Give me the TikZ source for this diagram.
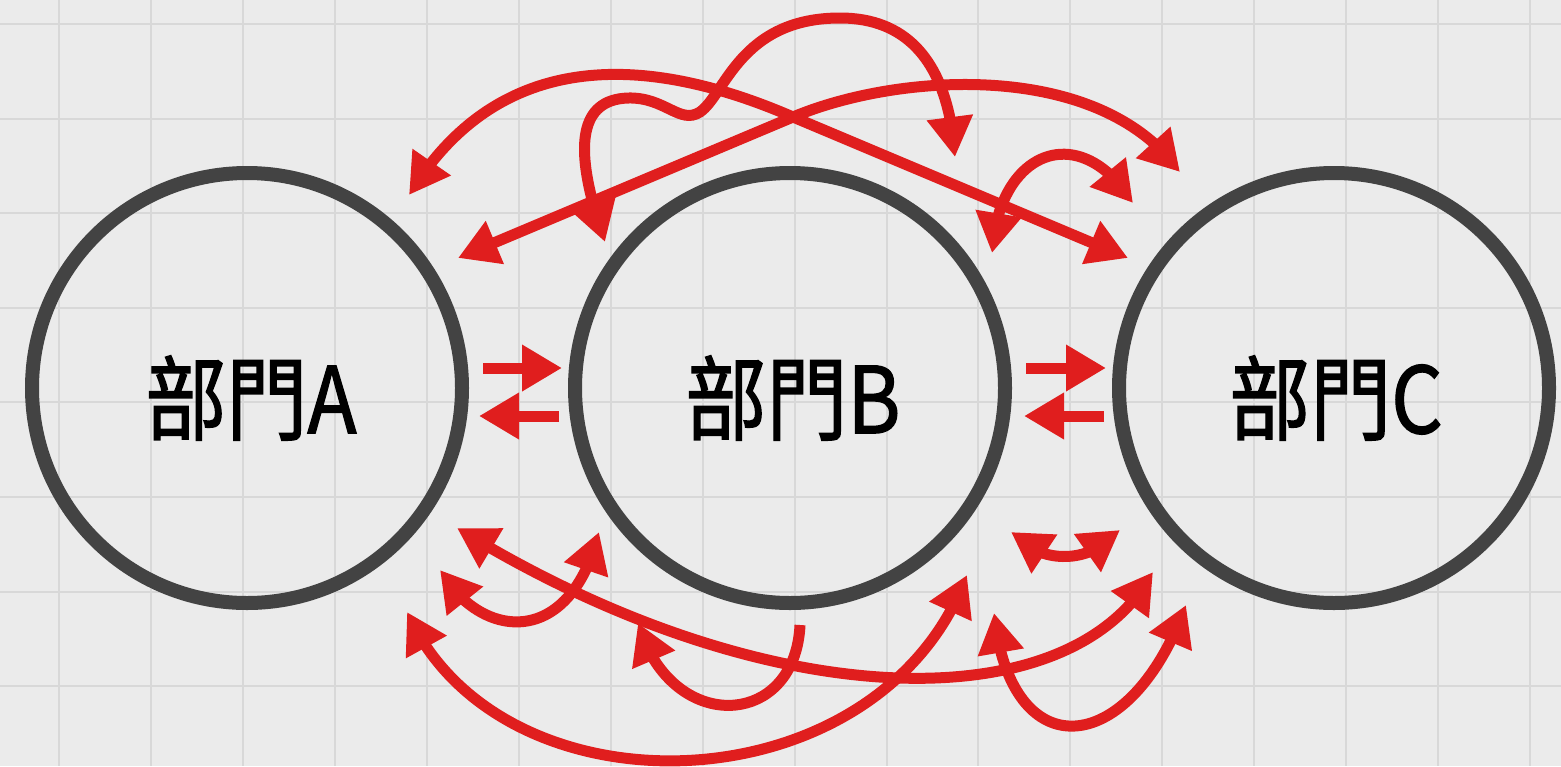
\documentclass[tikz,border=0pt]{standalone}
\usepackage{fontspec}
\usepackage{graphicx}
\newfontfamily\cjk{Noto Sans CJK TC}[FakeBold=1.5]
\usepackage{tikz}
\usetikzlibrary{arrows.meta,bending}
\pgfdeclarelayer{bg}
\pgfsetlayers{bg,main}
\definecolor{paper}{RGB}{235,235,235}
\definecolor{gridgray}{RGB}{216,216,216}
\definecolor{ringgray}{RGB}{67,67,67}
\definecolor{flowred}{RGB}{224,30,30}

\begin{document}
\begin{tikzpicture}[x=0.5pt,y=-0.5pt,
        >={Triangle[length=20pt,width=22pt,flex]},
        dept/.style={circle,draw=ringgray,line width=7pt,minimum size=215pt,inner sep=0pt},
        deptname/.style={font=\cjk\fontsize{46}{46}\selectfont,inner sep=0pt},
        flow/.style={draw=flowred,line width=5.5pt}]
        \useasboundingbox (0,0) rectangle (1561,766);
        \begin{pgfonlayer}{bg}
                \fill [paper] (0,0) rectangle (1561,766);
                \foreach \gx in {0,...,16}
                        \draw [gridgray,line width=1pt] ({59.4+91.9*\gx},0) -- ++(0,766);
                \foreach \gy in {0,...,7}
                        \draw [gridgray,line width=1pt] (0,{24+94.6*\gy}) -- ++(1561,0);
        \end{pgfonlayer}
        \node (A) [dept] at (247,388) {};
        \node (B) [dept] at (790,388) {};
        \node (C) [dept] at (1334,388) {};
        \node (nA) [deptname] at (251,398) {\scalebox{0.88}[1]{部門A}};
        \node (nB) [deptname] at (793,398) {\scalebox{0.88}[1]{部門B}};
        \node (nC) [deptname] at (1336,398) {\scalebox{0.88}[1]{部門C}};
        % ends above the circles
        \coordinate (a1) at (409,195);
        \coordinate (a2) at (458,258);
        \coordinate (x1) at (793,117);
        \coordinate (b1) at (605,242);
        \coordinate (b2) at (955,157);
        \coordinate (b3) at (992,253);
        \coordinate (c1) at (1128,258);
        \coordinate (c2) at (1180,172);
        \coordinate (c3) at (1133,203);
        % ends below the circles
        \coordinate (a3) at (457,528);
        \coordinate (a4) at (440,570);
        \coordinate (a5) at (407,612);
        \coordinate (b4) at (599,532);
        \coordinate (b5) at (967,575);
        \coordinate (b6) at (800,625);
        \coordinate (b7) at (638,623);
        \coordinate (b8) at (1011,532);
        \coordinate (b9) at (994,613);
        \coordinate (c4) at (1153,572);
        \coordinate (c5) at (1120,530);
        \coordinate (c6) at (1186,605);
        % ends between the circles
        \coordinate (ab1) at (483,368);
        \coordinate (ab2) at (562,368);
        \coordinate (ab3) at (559,416);
        \coordinate (ab4) at (479,416);
        \coordinate (bc1) at (1026,368);
        \coordinate (bc2) at (1106,368);
        \coordinate (bc3) at (1104,416);
        \coordinate (bc4) at (1024,416);

        \draw [flow,<->] (a1) .. controls (500,45) and (650,55) .. (x1) -- (c1);
        \draw [flow,<->] (a2) -- (x1) .. controls (900,72) and (1100,60) .. (c2);
        \draw [flow,<->] (b1) .. controls (580,170) and (568,100) .. (628,98)
                .. controls (665,97) and (680,125) .. (700,112)
                .. controls (725,95) and (740,18) .. (840,18)
                .. controls (920,18) and (950,80) .. (b2);
        \draw [flow,<->] (b3) .. controls (998,150) and (1080,118) .. (c3);

        \draw [flow,<->] (a3) .. controls (760,715) and (1070,725) .. (c4);
        \draw [flow,<->] (a4) .. controls (480,640) and (570,650) .. (b4);
        \draw [flow,<->] (a5) .. controls (500,822) and (880,810) .. (b5);
        \draw [flow,->] (b6) .. controls (795,730) and (670,735) .. (b7);
        \draw [flow,<->] (b8) .. controls (1040,565) and (1090,565) .. (c5);
        \draw [flow,<->] (b9) .. controls (1010,770) and (1130,760) .. (c6);

        \draw [flow,->] (ab1) -- (ab2);
        \draw [flow,->] (ab3) -- (ab4);
        \draw [flow,->] (bc1) -- (bc2);
        \draw [flow,->] (bc3) -- (bc4);
\end{tikzpicture}
\end{document}
